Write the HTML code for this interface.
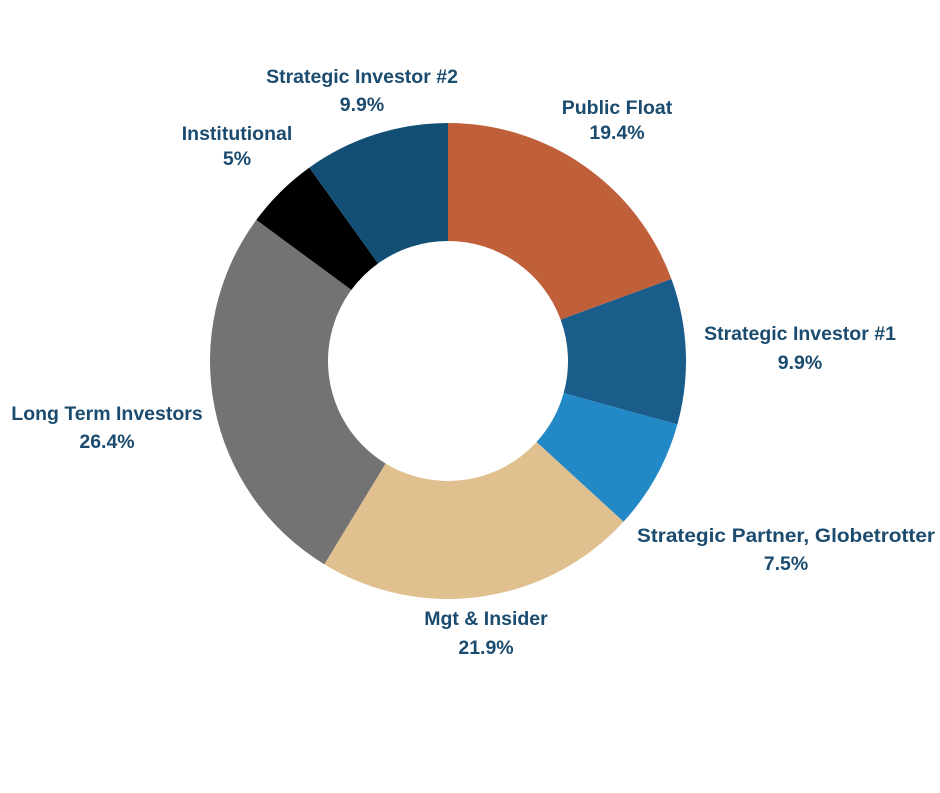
<!DOCTYPE html>
<html><head><meta charset="utf-8"><style>
html,body{margin:0;padding:0;background:#fff;}
svg text{font-family:"Liberation Sans",sans-serif;font-weight:bold;font-size:19.5px;fill:#1B4B6E;text-anchor:middle;}
</style></head><body>
<svg id="s" width="940" height="788" viewBox="0 0 940 788">
<g id="g"></g>
<text x="362" y="83">Strategic Investor #2</text><text x="362" y="111">9.9%</text>
<text x="617" y="114">Public Float</text><text x="617" y="139">19.4%</text>
<text x="237" y="140">Institutional</text><text x="237" y="165">5%</text>
<text x="800" y="340">Strategic Investor #1</text><text x="800" y="369">9.9%</text>
<text x="107" y="420">Long Term Investors</text><text x="107" y="448">26.4%</text>
<text x="786" y="542" textLength="298" lengthAdjust="spacingAndGlyphs">Strategic Partner, Globetrotter</text><text x="786" y="570">7.5%</text>
<text x="486" y="625">Mgt &amp; Insider</text><text x="486" y="654">21.9%</text>
</svg>
<script>
var d=[[19.4,"#C0603A"],[9.9,"#1A5C8A"],[7.5,"#2388C6"],[21.9,"#E0C08E"],[26.4,"#737373"],[5,"#000000"],[9.9,"#134F75"]];
var cx=448,cy=361,R=238,r=120,a=0,g=document.getElementById("g"),h="";
function p(rad,ang){var t=ang/100*2*Math.PI;return [cx+rad*Math.sin(t),cy-rad*Math.cos(t)];}
d.forEach(function(e){var b=a+e[0],l=e[0]>50?1:0;
var p1=p(R,a),p2=p(R,b),p3=p(r,b),p4=p(r,a);
h+='<path fill="'+e[1]+'" d="M'+p1+' A'+R+' '+R+' 0 '+l+' 1 '+p2+' L'+p3+' A'+r+' '+r+' 0 '+l+' 0 '+p4+' Z"/>';a=b;});
g.innerHTML=h;
</script>
</body></html>
